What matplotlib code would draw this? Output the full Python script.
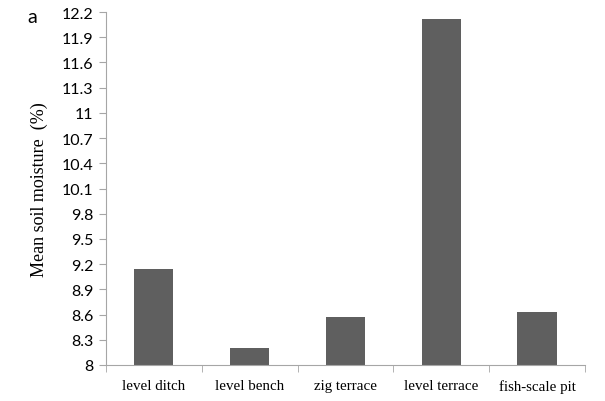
import matplotlib
matplotlib.use('Agg')
import numpy as np
from matplotlib import pyplot as plt

categories = ['level ditch', 'level bench', 'zig terrace', 'level terrace', 'fish-scale pit']
moisture = [9.14, 8.20, 8.57, 12.12, 8.63]
yticks = [8, 8.3, 8.6, 8.9, 9.2, 9.5, 9.8, 10.1, 10.4, 10.7, 11, 11.3, 11.6, 11.9, 12.2]
ytick_labels = ['8', '8.3', '8.6', '8.9', '9.2', '9.5', '9.8', '10.1', '10.4', '10.7',
                '11', '11.3', '11.6', '11.9', '12.2']

axis_col = '#a6a6a6'

fig = plt.figure(figsize=(6.05, 4.02), dpi=100)
ax = fig.add_axes([0.175, 0.0896, 0.792, 0.878])

x = np.arange(len(categories))
ax.bar(x, moisture, width=0.41, color='#5f5f5f', zorder=2)

ax.set_xlim(-0.5, len(categories) - 0.5)
ax.set_ylim(8, 12.2)
ax.set_yticks(yticks)
ax.set_yticklabels(ytick_labels, family='Lato', fontsize=11.5)
ax.set_xticks(x)
ax.set_xticklabels(categories, family='Liberation Serif', fontsize=10.8)
ax.set_xticks(np.arange(len(categories) + 1) - 0.5, minor=True)
ax.tick_params(axis='x', which='major', length=0, pad=10)
ax.tick_params(axis='x', which='minor', length=5, color=axis_col, direction='out')
ax.tick_params(axis='y', length=5, color=axis_col, direction='out', pad=4)

for side in ['top', 'right']:
    ax.spines[side].set_visible(False)
for side in ['left', 'bottom']:
    ax.spines[side].set_color(axis_col)

ax.set_ylabel('Mean soil moisture  (%)', family='Liberation Serif', fontsize=13, labelpad=10)
fig.text(0.045, 0.943, 'a', family='Lato', fontsize=14)

fig.savefig('out.png', dpi=100)
